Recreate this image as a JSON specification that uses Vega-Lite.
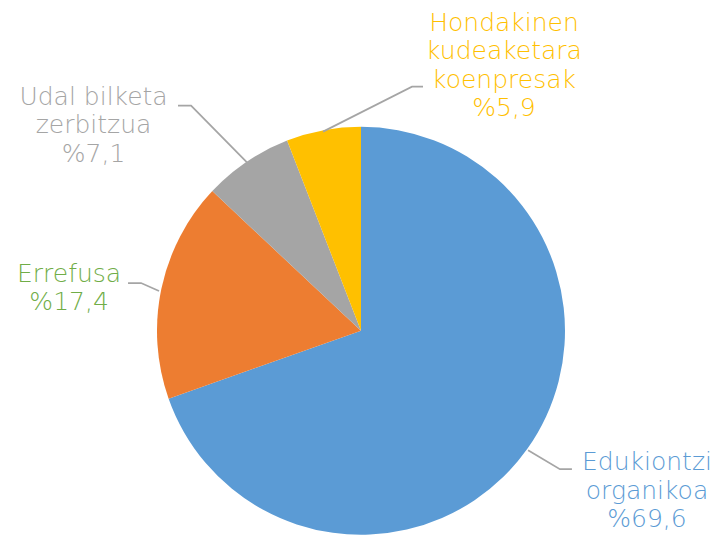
{
  "$schema": "https://vega.github.io/schema/vega-lite/v6.json",
  "width": 722,
  "height": 535,
  "autosize": {"type": "fit", "contains": "padding"},
  "padding": 0,
  "background": "white",
  "config": {"view": {"stroke": null}},
  "datasets": {
    "slices": [
      {"category": "Edukiontzi organikoa", "share": 69.6, "rank": 1},
      {"category": "Errefusa", "share": 17.4, "rank": 2},
      {"category": "Udal bilketa zerbitzua", "share": 7.1, "rank": 3},
      {"category": "Hondakinen kudeaketara koenpresak", "share": 5.9, "rank": 4}
    ],
    "leaders": [
      {"category": "Hondakinen kudeaketara koenpresak", "seq": 1, "px": -0.186, "py": 0.980},
      {"category": "Hondakinen kudeaketara koenpresak", "seq": 2, "px": 0.250, "py": 1.201},
      {"category": "Hondakinen kudeaketara koenpresak", "seq": 3, "px": 0.304, "py": 1.201},
      {"category": "Udal bilketa zerbitzua", "seq": 1, "px": -0.559, "py": 0.828},
      {"category": "Udal bilketa zerbitzua", "seq": 2, "px": -0.833, "py": 1.108},
      {"category": "Udal bilketa zerbitzua", "seq": 3, "px": -0.897, "py": 1.108},
      {"category": "Errefusa", "seq": 1, "px": -0.990, "py": 0.196},
      {"category": "Errefusa", "seq": 2, "px": -1.078, "py": 0.235},
      {"category": "Errefusa", "seq": 3, "px": -1.142, "py": 0.235},
      {"category": "Edukiontzi organikoa", "seq": 1, "px": 0.819, "py": -0.588},
      {"category": "Edukiontzi organikoa", "seq": 2, "px": 0.975, "py": -0.681},
      {"category": "Edukiontzi organikoa", "seq": 3, "px": 1.034, "py": -0.681}
    ],
    "labels": [
      {"category": "Edukiontzi organikoa", "label": "Edukiontzi\norganikoa\n%69,6", "lx": 1.402, "ly": -0.686},
      {"category": "Errefusa", "label": "Errefusa\n%17,4", "lx": -1.431, "ly": 0.240},
      {"category": "Udal bilketa zerbitzua", "label": "Udal bilketa\nzerbitzua\n%7,1", "lx": -1.311, "ly": 1.113},
      {"category": "Hondakinen kudeaketara koenpresak", "label": "Hondakinen\nkudeaketara\nkoenpresak\n%5,9", "lx": 0.701, "ly": 1.475}
    ]
  },
  "layer": [
    {
      "data": {"name": "slices"},
      "mark": {"type": "arc", "outerRadius": 204},
      "encoding": {
        "theta": {"field": "share", "type": "quantitative", "stack": true},
        "order": {"field": "rank", "type": "quantitative"},
        "color": {
          "field": "category",
          "type": "nominal",
          "scale": {
            "domain": ["Edukiontzi organikoa", "Errefusa", "Udal bilketa zerbitzua", "Hondakinen kudeaketara koenpresak"],
            "range": ["#5B9BD5", "#ED7D31", "#A5A5A5", "#FFC000"]
          },
          "legend": null
        },
        "x": {"datum": 0, "type": "quantitative", "scale": {"domain": [-1.7696, 1.7696], "nice": false, "zero": false}, "axis": null},
        "y": {"datum": 0, "type": "quantitative", "scale": {"domain": [-0.9951, 1.6275], "nice": false, "zero": false}, "axis": null}
      }
    },
    {
      "data": {"name": "leaders"},
      "mark": {"type": "line", "color": "#A5A5A5", "strokeWidth": 1.75},
      "encoding": {
        "x": {"field": "px", "type": "quantitative", "axis": null},
        "y": {"field": "py", "type": "quantitative", "axis": null},
        "detail": {"field": "category"},
        "order": {"field": "seq", "type": "quantitative"}
      }
    },
    {
      "data": {"name": "labels"},
      "mark": {"type": "text", "font": "DejaVu Sans", "fontWeight": 200, "fontSize": 25, "lineHeight": 28.5, "lineBreak": "\n", "align": "center", "baseline": "alphabetic"},
      "encoding": {
        "x": {"field": "lx", "type": "quantitative", "axis": null},
        "y": {"field": "ly", "type": "quantitative", "axis": null},
        "text": {"field": "label"},
        "color": {
          "field": "category",
          "type": "nominal",
          "scale": {
            "domain": ["Edukiontzi organikoa", "Errefusa", "Udal bilketa zerbitzua", "Hondakinen kudeaketara koenpresak"],
            "range": ["#5B9BD5", "#70AD47", "#A5A5A5", "#FFC000"]
          },
          "legend": null
        }
      }
    }
  ],
  "resolve": {"scale": {"color": "independent"}}
}
